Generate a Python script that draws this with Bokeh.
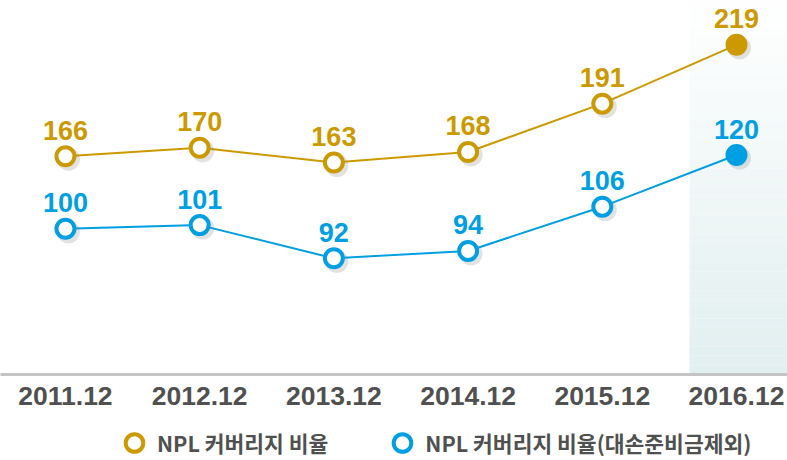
import numpy as np
from bokeh.plotting import figure
from bokeh.layouts import column
from bokeh.models import ColumnDataSource, Range1d, FixedTicker, Legend, LegendItem
from bokeh.core.properties import value
from bokeh.embed import file_html
from bokeh.resources import INLINE

# ---- data ----
periods = ["2011.12", "2012.12", "2013.12", "2014.12", "2015.12", "2016.12"]
npl_coverage = [166, 170, 163, 168, 191, 219]
npl_coverage_ex = [100, 101, 92, 94, 106, 120]
series_names = ["NPL 커버리지 비율", "NPL 커버리지 비율(대손준비금제외)"]

GOLD = "#CC9A00"
BLUE = "#009FE3"
TXT = "#505050"

xs = list(range(len(periods)))
n = len(xs)

W = 787
XR = (-0.484, 5.38)
YG = (62.1, 240.1)
YB = (60.5, 161.9)
FRAME_H = 374
AXIS_H = 45

p = figure(width=W, height=FRAME_H + AXIS_H, output_backend="svg", toolbar_location=None,
           x_range=Range1d(*XR), y_range=Range1d(*YG),
           y_axis_location=None,
           min_border_left=0, min_border_right=0, min_border_top=0,
           min_border_bottom=AXIS_H)
p.extra_y_ranges = {"ex": Range1d(*YB)}

# shifted ranges for a soft drop shadow (3px right, 3px down)
sh = 3.0
dx = sh * (XR[1] - XR[0]) / W
dyg = sh * (YG[1] - YG[0]) / FRAME_H
dyb = sh * (YB[1] - YB[0]) / FRAME_H
p.extra_x_ranges = {"sh": Range1d(XR[0] - dx, XR[1] - dx)}
p.extra_y_ranges["shg"] = Range1d(YG[0] + dyg, YG[1] + dyg)
p.extra_y_ranges["shb"] = Range1d(YB[0] + dyb, YB[1] + dyb)

p.grid.visible = False
p.outline_line_color = None
p.background_fill_color = "white"

# ---- highlighted last-period band (vertical gradient) ----
nstrip = 40
edges = np.linspace(YG[0], YG[1], nstrip + 1)
c_bot = np.array([226, 239, 240])
c_top = np.array([255, 255, 255])
cols = []
for i in range(nstrip):
    t = (i + 0.5) / nstrip
    c = (c_bot * (1 - t) + c_top * t).astype(int)
    cols.append("#%02x%02x%02x" % tuple(c))
band_left = xs[-1] - 0.35
p.quad(left=[band_left] * nstrip, right=[XR[1]] * nstrip,
       bottom=list(edges[:-1]), top=list(edges[1:]),
       fill_color=cols, line_color=None)

# ---- series ----
src_g = ColumnDataSource(dict(x=xs, y=npl_coverage, lab=[str(v) for v in npl_coverage],
                              fill=["white"] * (n - 1) + [GOLD]))
src_b = ColumnDataSource(dict(x=xs, y=npl_coverage_ex, lab=[str(v) for v in npl_coverage_ex],
                              fill=["white"] * (n - 1) + [BLUE]))

p.line("x", "y", source=src_g, line_color=GOLD, line_width=2)
p.line("x", "y", source=src_b, line_color=BLUE, line_width=2, y_range_name="ex")

# shadows
p.scatter("x", "y", source=src_g, size=23, fill_color="#7a7a7a", fill_alpha=0.22, line_color=None,
          x_range_name="sh", y_range_name="shg")
p.scatter("x", "y", source=src_b, size=23, fill_color="#7a7a7a", fill_alpha=0.22, line_color=None,
          x_range_name="sh", y_range_name="shb")

p.scatter("x", "y", source=src_g, size=18, line_color=GOLD, line_width=4, fill_color="fill")
p.scatter("x", "y", source=src_b, size=18, line_color=BLUE, line_width=4, fill_color="fill",
          y_range_name="ex")

lab_font = value("Liberation Sans")
p.text("x", "y", text="lab", source=src_g, text_color=GOLD, text_font=lab_font,
       text_font_style="bold", text_font_size="27px", text_align="center",
       text_baseline="middle", y_offset=-26)
p.text("x", "y", text="lab", source=src_b, text_color=BLUE, text_font=lab_font,
       text_font_style="bold", text_font_size="27px", text_align="center",
       text_baseline="middle", y_offset=-26, y_range_name="ex")

# ---- x axis ----
ax = p.xaxis[0]
ax.ticker = FixedTicker(ticks=xs)
ax.major_label_overrides = {i: s for i, s in zip(xs, periods)}
ax.axis_line_color = "#c4c4c4"
ax.axis_line_width = 3
ax.major_tick_line_color = None
ax.minor_tick_line_color = None
ax.major_label_standoff = 6
ax.major_label_text_font = "Liberation Sans"
ax.major_label_text_font_style = "bold"
ax.major_label_text_font_size = "26.5px"
ax.major_label_text_color = TXT

# ---- legend strip ----
LEG_H = 460 - FRAME_H - AXIS_H
lf = figure(width=W, height=LEG_H, output_backend="svg", toolbar_location=None,
            x_range=Range1d(0, 1), y_range=Range1d(0, 1),
            x_axis_location=None, y_axis_location=None,
            min_border_left=0, min_border_right=0, min_border_top=0, min_border_bottom=0)
lf.grid.visible = False
lf.outline_line_color = None
# legend-only renderers: their single point lies outside the strip's ranges
lg = lf.scatter(x=[xs[0]], y=[npl_coverage[0]], size=18, line_color=GOLD, line_width=4,
                fill_color="white")
lb = lf.scatter(x=[xs[0]], y=[npl_coverage_ex[0]], size=18, line_color=BLUE, line_width=4,
                fill_color="white")
legend = Legend(items=[LegendItem(label=series_names[0], renderers=[lg], index=0),
                       LegendItem(label=series_names[1], renderers=[lb], index=0)],
                orientation="horizontal", location=(112, -5),
                glyph_width=44, glyph_height=45, label_standoff=1, spacing=52,
                label_height=45,
                padding=0, margin=0, border_line_color=None, background_fill_alpha=0,
                label_text_font="Noto Sans CJK KR", label_text_font_style="bold",
                label_text_font_size="21.5px", label_text_color=TXT)
lf.add_layout(legend)

layout = column(p, lf, spacing=0)
open("out.html", "w").write(file_html(layout, INLINE))
